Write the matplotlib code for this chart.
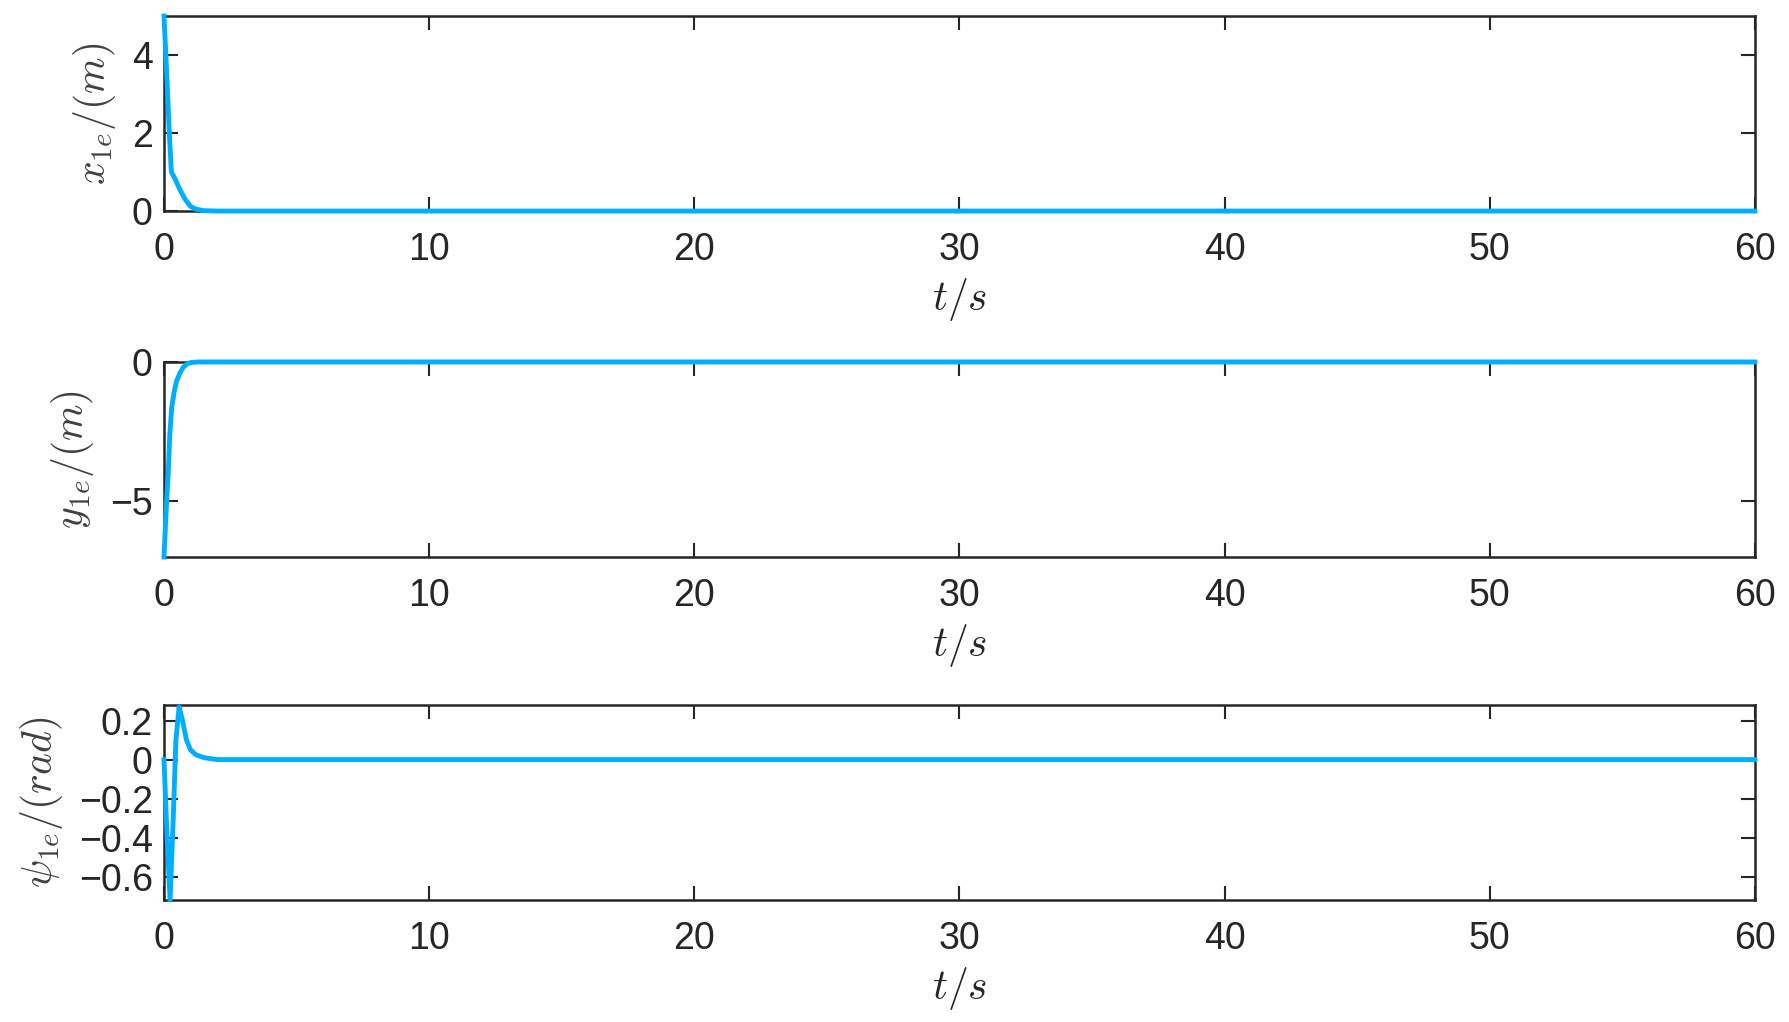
import numpy as np
import matplotlib
matplotlib.use("Agg")
import matplotlib.pyplot as plt

plt.rcParams['font.family'] = ['Liberation Sans', 'DejaVu Sans']
plt.rcParams['mathtext.fontset'] = 'cm'

# values
t_x = [0, 0.1, 0.2, 0.28, 0.4, 0.6, 0.8, 1.0, 1.2, 1.5, 2.0, 60]
x1e = [5, 3.6, 2.0, 1.0, 0.85, 0.55, 0.3, 0.12, 0.05, 0.01, 0, 0]

t_y = [0, 0.05, 0.1, 0.16, 0.22, 0.29, 0.38, 0.47, 0.6, 0.72, 0.85, 1.0, 1.3, 60]
y1e = [-7, -6.0, -5.0, -4.0, -2.6, -1.65, -1.1, -0.7, -0.4, -0.2, -0.08, -0.02, 0, 0]

t_psi = [0, 0.12, 0.23, 0.35, 0.45, 0.57, 0.7, 0.85, 1.0, 1.2, 1.5, 2.0, 60]
psi1e = [0, -0.4, -0.72, -0.3, 0.1, 0.27, 0.2, 0.1, 0.05, 0.025, 0.01, 0, 0]

xticks = [0, 10, 20, 30, 40, 50, 60]

line_color = '#00AEFF'
fig = plt.figure(figsize=(17.9, 10.22), dpi=100)

panels = [
    (0.7935, t_x, x1e, (0, 5), [0, 2, 4], ['0', '2', '4'], r'$x_{1e}/(m)$'),
    (0.4550, t_y, y1e, (-7, 0), [-5, 0], ['\u22125', '0'], r'$y_{1e}/(m)$'),
    (0.1194, t_psi, psi1e, (-0.72, 0.28), [-0.6, -0.4, -0.2, 0, 0.2],
     ['\u22120.6', '\u22120.4', '\u22120.2', '0', '0.2'], r'$\psi_{1e}/(rad)$'),
]

for bottom, t, v, ylim, yt, ytl, ylab in panels:
    ax = fig.add_axes([0.0916, bottom, 0.8888, 0.1908])
    ax.plot(t, v, color=line_color, lw=3.5, zorder=5, clip_on=False)
    ax.set_xlim(0, 60)
    ax.set_ylim(*ylim)
    ax.set_xticks(xticks)
    ax.set_yticks(yt)
    ax.set_yticklabels(ytl)
    ax.tick_params(direction='in', top=True, right=True, length=10, width=1.5,
                   labelsize=27, colors='#262626')
    ax.tick_params(axis='x', pad=15)
    ax.tick_params(axis='y', pad=8)
    for s in ax.spines.values():
        s.set_linewidth(1.8)
        s.set_color('#262626')
    ax.set_xlabel(r'$t/s$', fontsize=30, color='#262626', labelpad=6)
    ax.set_ylabel(ylab, fontsize=30, color='#404040', labelpad=10)

fig.savefig('out.png', dpi=100)
